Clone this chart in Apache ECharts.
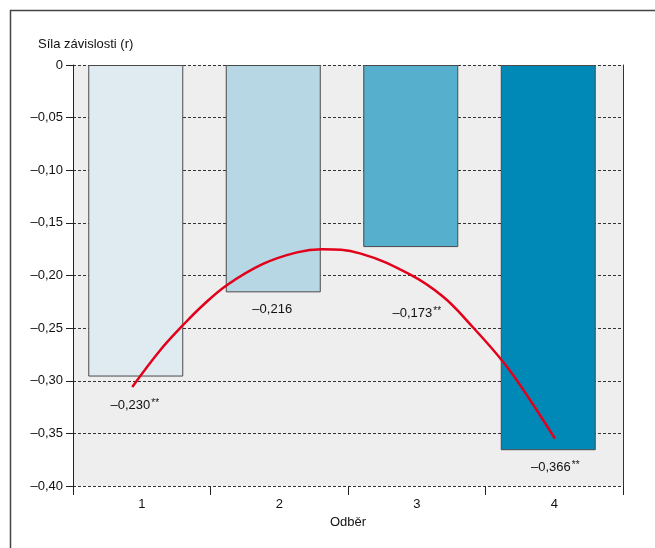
<!DOCTYPE html>
<html>
<head>
<meta charset="utf-8">
<script src="https://cdn.jsdelivr.net/npm/echarts@6/dist/echarts.min.js"></script>
<style>
  html, body { margin: 0; padding: 0; background: #fff; }
  #chart-container { width: 655px; height: 548px; }
</style>
</head>
<body>
<div id="chart-container"></div>
<script>
var dom = document.getElementById("chart-container");
var myChart = echarts.init(dom, null, { renderer: "canvas" });

// data
var categories = ["1", "2", "3", "4"];
var barValues = [-0.296, -0.216, -0.173, -0.366];
var barLabels = ["–0,230", "–0,216", "–0,173", "–0,366"];
var barStars = ["**", "", "**", "**"];
// red trend curve, read point by point (x in category units, 1 = first bar)
var curveX = [0.931, 1.134, 1.301, 1.447, 1.621, 1.882, 2.129, 2.311, 2.587, 2.95, 3.19, 3.386, 3.64, 3.823, 4.005];
var curveY = [-0.306, -0.271, -0.247, -0.228, -0.209, -0.189, -0.178, -0.175, -0.179, -0.199, -0.22, -0.246, -0.284, -0.318, -0.355];

var barColors = ["#dfebf1", "#b6d7e3", "#56afcc", "#0089b6"];
var labelOffsets = [[-1, 22], [-1, 11], [6, 59], [7, 10]];

var font = "'Liberation Sans', Arial, sans-serif";

var barData = barValues.map(function (v, i) {
  return {
    value: v,
    itemStyle: { color: barColors[i] },
    label: { offset: labelOffsets[i] }
  };
});

var option = {
  animation: false,
  textStyle: { fontFamily: font },
  graphic: [
    {
      type: "rect",
      shape: { x: 10.5, y: 10.5, width: 700, height: 600 },
      style: { fill: "none", stroke: "#444", lineWidth: 1.5 },
      silent: true
    },
    {
      type: "text",
      left: 38,
      top: 38,
      style: { text: "Síla závislosti (r)", font: "13px " + font, fill: "#111" }
    }
  ],
  grid: {
    left: 73,
    top: 65,
    right: 32,
    bottom: 62,
    show: true,
    backgroundColor: "#edeeed",
    borderWidth: 0
  },
  xAxis: [
    {
      type: "category",
      data: categories,
      name: "Odběr",
      nameLocation: "middle",
      nameGap: 30,
      nameTextStyle: { fontSize: 13, color: "#111" },
      axisLine: { show: false, onZero: false },
      axisTick: { show: true, length: 9, lineStyle: { color: "#222" } },
      axisLabel: { fontSize: 13, color: "#111", margin: 12 }
    },
    {
      type: "value",
      min: 0.5,
      max: 4.5,
      show: false
    }
  ],
  yAxis: [
    {
      type: "value",
      min: -0.4,
      max: 0,
      interval: 0.05,
      axisLine: { show: true, lineStyle: { color: "#222" } },
      axisTick: { show: true, length: 7, lineStyle: { color: "#222" } },
      axisLabel: {
        fontSize: 13,
        color: "#111",
        margin: 10,
        formatter: function (v) {
          if (v === 0) return "0";
          return "–" + Math.abs(v).toFixed(2).replace(".", ",");
        }
      },
      splitLine: {
        show: true,
        lineStyle: { color: "#333", type: [3, 2], width: 1 }
      }
    },
    {
      type: "value",
      min: -0.4,
      max: 0,
      position: "right",
      axisLine: { show: true, onZero: false, lineStyle: { color: "#333" } },
      axisTick: { show: false },
      axisLabel: { show: false },
      splitLine: { show: false }
    }
  ],
  series: [
    {
      type: "bar",
      data: barData,
      barWidth: 95,
      barGap: "0%",
      itemStyle: { borderColor: "#4a4a4a", borderWidth: 1 },
      label: {
        show: true,
        position: "bottom",
        distance: 0,
        formatter: function (p) {
          var s = barStars[p.dataIndex];
          return "{a|" + barLabels[p.dataIndex] + "}" + (s ? "{s|" + s + "}" : "");
        },
        rich: {
          a: { fontSize: 13, color: "#111", fontFamily: font },
          s: { fontSize: 10, color: "#111", fontFamily: font, verticalAlign: "top", padding: [0, 0, 4, 1] }
        }
      },
      z: 2
    },
    {
      // spacer so the bars sit slightly left of the band centre
      type: "bar",
      data: [null, null, null, null],
      barWidth: 12,
      silent: true
    },
    {
      type: "line",
      xAxisIndex: 1,
      data: curveX.map(function (x, i) { return [x, curveY[i]]; }),
      smooth: 0.4,
      symbol: "none",
      lineStyle: { color: "#e3001b", width: 2.5 },
      z: 5
    }
  ]
};

myChart.setOption(option);
window.addEventListener("resize", myChart.resize);
</script>
</body>
</html>
